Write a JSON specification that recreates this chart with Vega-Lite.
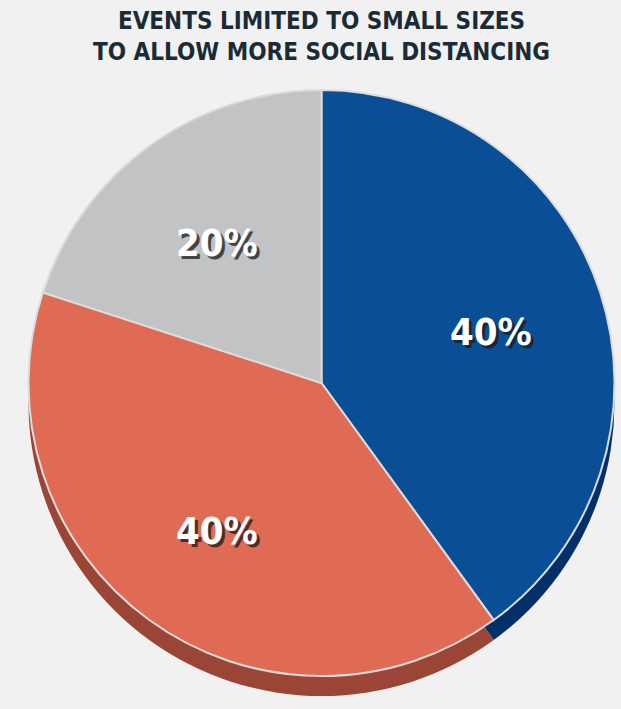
{
  "$schema": "https://vega.github.io/schema/vega-lite/v6.json",
  "autosize": {"type": "fit", "contains": "padding"},
  "width": 621,
  "height": 709,
  "padding": {"left": 22, "top": 10, "right": 0, "bottom": 14},
  "background": "#f1f1f1",
  "view": {"stroke": null},
  "title": {
    "text": ["EVENTS LIMITED TO SMALL SIZES", "TO ALLOW MORE SOCIAL DISTANCING"],
    "font": "DejaVu Sans Condensed",
    "fontWeight": "bold",
    "fontSize": 24,
    "lineHeight": 31,
    "color": "#1b2b36",
    "anchor": "middle",
    "offset": 6
  },
  "data": {
    "values": [
      {"segment": "Blue", "share": 40, "label": "40%", "idx": 1},
      {"segment": "Orange", "share": 40, "label": "40%", "idx": 2},
      {"segment": "Gray", "share": 20, "label": "20%", "idx": 3}
    ]
  },
  "encoding": {
    "theta": {"field": "share", "type": "quantitative", "stack": true},
    "order": {"field": "idx", "type": "quantitative"}
  },
  "layer": [
    {
      "mark": {"type": "arc", "outerRadius": 293, "yOffset": 20},
      "encoding": {
        "color": {
          "field": "segment",
          "type": "nominal",
          "scale": {"domain": ["Blue", "Orange", "Gray"], "range": ["#04306a", "#9a4536", "#8e8f91"]},
          "legend": null
        }
      }
    },
    {
      "mark": {"type": "arc", "outerRadius": 293, "stroke": "#dcdcdc", "strokeWidth": 2},
      "encoding": {
        "fill": {
          "field": "segment",
          "type": "nominal",
          "scale": {"domain": ["Blue", "Orange", "Gray"], "range": ["#0a4f96", "#e06b55", "#c2c3c5"]},
          "legend": null
        }
      }
    },
    {
      "mark": {"type": "text", "radius": 178, "font": "DejaVu Sans Condensed", "fontWeight": "bold", "fontSize": 38, "fill": "#1a1a1a", "opacity": 0.75, "dx": 3, "dy": 9},
      "encoding": {"text": {"field": "label"}}
    },
    {
      "mark": {"type": "text", "radius": 178, "font": "DejaVu Sans Condensed", "fontWeight": "bold", "fontSize": 38, "fill": "#ffffff", "dy": 6},
      "encoding": {"text": {"field": "label"}}
    }
  ],
  "resolve": {"scale": {"color": "independent", "fill": "independent"}}
}
